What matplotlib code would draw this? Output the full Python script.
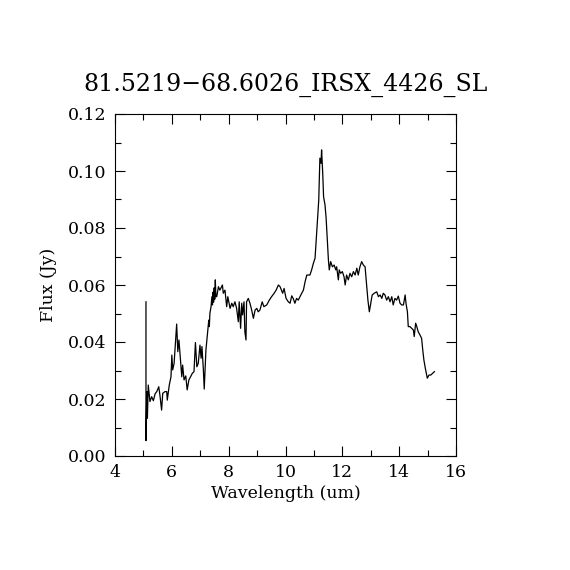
import matplotlib
matplotlib.use("Agg")
import matplotlib.pyplot as plt
from matplotlib.ticker import MultipleLocator

title = "81.5219\u221268.6026_IRSX_4426_SL"
xlabel = "Wavelength (um)"
ylabel = "Flux (Jy)"

wavelength = [
    5.09, 5.09, 5.12, 5.14, 5.17, 5.23, 5.29, 5.35, 5.41, 5.47, 5.54, 5.58, 5.64, 5.68,
    5.76, 5.82, 5.84, 5.91, 5.97, 6.00, 6.03, 6.08, 6.14, 6.17, 6.21, 6.25, 6.29, 6.35,
    6.38, 6.43, 6.49, 6.54, 6.60, 6.66, 6.72, 6.78, 6.83, 6.88, 6.93, 6.99, 7.03, 7.06,
    7.11, 7.14, 7.20, 7.25, 7.30, 7.32, 7.34, 7.38, 7.41, 7.43, 7.45, 7.47, 7.49, 7.51,
    7.53, 7.55, 7.58, 7.64, 7.69, 7.78, 7.81, 7.87, 7.93, 7.97, 8.05, 8.11, 8.16, 8.22,
    8.28, 8.34, 8.37, 8.42, 8.46, 8.49, 8.54, 8.57, 8.61, 8.63, 8.69, 8.75, 8.81, 8.87,
    8.93, 8.99, 9.04, 9.10, 9.18, 9.24, 9.34, 9.43, 9.51, 9.60, 9.67, 9.75, 9.81, 9.90,
    9.95, 10.02, 10.10, 10.16, 10.22, 10.27, 10.33, 10.39, 10.45, 10.51, 10.57, 10.63,
    10.69, 10.75, 10.80, 10.86, 10.92, 10.98, 11.04, 11.07, 11.12, 11.17, 11.21, 11.25,
    11.27, 11.31, 11.34, 11.39, 11.43, 11.46, 11.51, 11.54, 11.59, 11.65, 11.71, 11.77,
    11.80, 11.86, 11.89, 11.94, 12.00, 12.06, 12.10, 12.15, 12.21, 12.27, 12.33, 12.39,
    12.45, 12.51, 12.56, 12.62, 12.68, 12.74, 12.80, 12.86, 12.90, 12.95, 13.00, 13.05,
    13.12, 13.21, 13.27, 13.33, 13.39, 13.44, 13.50, 13.56, 13.62, 13.68, 13.74, 13.79,
    13.85, 13.91, 13.97, 14.03, 14.09, 14.15, 14.21, 14.24, 14.29, 14.32, 14.38, 14.44,
    14.50, 14.53, 14.58, 14.62, 14.67, 14.73, 14.79, 14.83, 14.87, 14.92, 14.99, 15.05,
    15.11, 15.20, 15.24,
]

flux = [
    0.0541, 0.0054, 0.0226, 0.0132, 0.0249, 0.0191, 0.0208, 0.0194, 0.0218, 0.0226, 0.0243, 0.0214, 0.0161, 0.0220,
    0.0226, 0.0226, 0.0196, 0.0249, 0.0278, 0.0354, 0.0302, 0.0325, 0.0419, 0.0463, 0.0366, 0.0407, 0.0354, 0.0278,
    0.0319, 0.0267, 0.0281, 0.0232, 0.0267, 0.0278, 0.0290, 0.0296, 0.0398, 0.0313, 0.0325, 0.0389, 0.0343, 0.0384,
    0.0302, 0.0235, 0.0372, 0.0425, 0.0477, 0.0454, 0.0501, 0.0524, 0.0559, 0.0530, 0.0575, 0.0540, 0.0590, 0.0550,
    0.0618, 0.0560, 0.0559, 0.0594, 0.0582, 0.0600, 0.0571, 0.0582, 0.0524, 0.0559, 0.0518, 0.0536, 0.0524, 0.0541,
    0.0518, 0.0471, 0.0541, 0.0448, 0.0536, 0.0495, 0.0541, 0.0436, 0.0407, 0.0541, 0.0553, 0.0536, 0.0512, 0.0483,
    0.0512, 0.0518, 0.0506, 0.0512, 0.0541, 0.0524, 0.0530, 0.0547, 0.0559, 0.0571, 0.0582, 0.0600, 0.0594, 0.0571,
    0.0588, 0.0553, 0.0541, 0.0536, 0.0562, 0.0553, 0.0536, 0.0553, 0.0547, 0.0559, 0.0571, 0.0582,
    0.0612, 0.0635, 0.0635, 0.0635, 0.0653, 0.0676, 0.0694, 0.0740, 0.0816, 0.0898, 0.1045, 0.1027,
    0.1074, 0.0992, 0.0910, 0.0881, 0.0834, 0.0781, 0.0688, 0.0653, 0.0682, 0.0664, 0.0670, 0.0653,
    0.0664, 0.0618, 0.0653, 0.0641, 0.0647, 0.0629, 0.0600, 0.0635, 0.0618, 0.0641, 0.0629, 0.0647,
    0.0635, 0.0659, 0.0635, 0.0664, 0.0682, 0.0670, 0.0664, 0.0594, 0.0547, 0.0506, 0.0536, 0.0565,
    0.0571, 0.0576, 0.0559, 0.0565, 0.0553, 0.0571, 0.0565, 0.0547, 0.0559, 0.0541, 0.0559, 0.0530,
    0.0553, 0.0547, 0.0561, 0.0536, 0.0530, 0.0530, 0.0565, 0.0536, 0.0506, 0.0454, 0.0454, 0.0448,
    0.0442, 0.0419, 0.0466, 0.0454, 0.0436, 0.0425, 0.0413, 0.0372, 0.0337, 0.0308, 0.0273, 0.0284,
    0.0284, 0.0292, 0.0296,
]

xticks = [4, 6, 8, 10, 12, 14, 16]
yticks = [0.00, 0.02, 0.04, 0.06, 0.08, 0.10, 0.12]

plt.rcParams["font.family"] = ["DejaVu Serif"]

fig = plt.figure(figsize=(5.7, 5.7), dpi=100)
fig.patch.set_facecolor("white")
ax = fig.add_axes([115 / 570, 1 - 456 / 570, 341 / 570, 342 / 570])

ax.plot(wavelength, flux, color="black", linewidth=0.9)

ax.set_xlim(4, 16)
ax.set_ylim(0, 0.12)
ax.set_xticks(xticks)
ax.set_xticklabels([str(t) for t in xticks])
ax.set_yticks(yticks)
ax.set_yticklabels([f"{t:.2f}" for t in yticks])
ax.xaxis.set_minor_locator(MultipleLocator(1))
ax.yaxis.set_minor_locator(MultipleLocator(0.01))

ax.tick_params(which="both", direction="in", top=True, right=True,
               width=0.8, colors="black", labelsize=12.5)
ax.tick_params(which="major", length=7, pad=6)
ax.tick_params(which="minor", length=4)
for s in ax.spines.values():
    s.set_linewidth(0.8)

ax.set_xlabel(xlabel, fontsize=12.5, labelpad=3)
ax.set_ylabel(ylabel, fontsize=12.5, labelpad=8)
ax.set_title(title, fontsize=17, pad=17)

fig.savefig("out.png", dpi=100, facecolor="white")
